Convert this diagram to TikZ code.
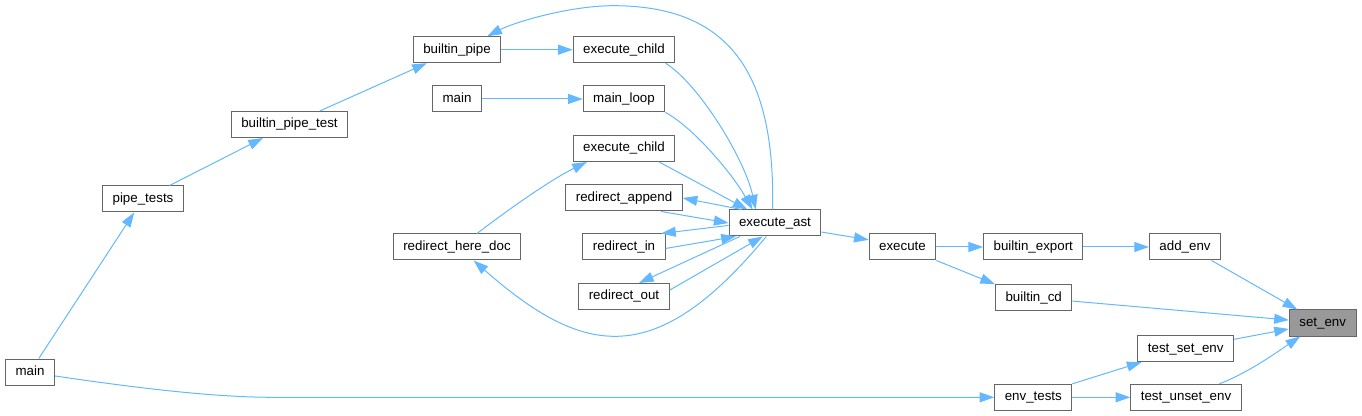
\documentclass[tikz,border=0pt]{standalone}
\usepackage{fontspec}
\setmainfont{Liberation Sans}
\usetikzlibrary{arrows.meta}
\definecolor{lien}{HTML}{63B8FF}
\definecolor{bord}{HTML}{666666}
\definecolor{racine}{HTML}{999999}

\begin{document}
\begin{tikzpicture}[x=0.75pt, y=-0.75pt,
        boite/.style={draw=bord, fill=white, line width=0.75pt, minimum height=19.5pt,
            inner xsep=7.5pt, inner ysep=0pt, text height=7.6pt, text depth=2.4pt,
            font=\fontsize{10}{12}\selectfont},
        fleche/.style={draw=lien, line width=0.75pt, -{Triangle[length=11pt,width=7.5pt]}}]
        \useasboundingbox (0,0) rectangle (1362,416);

        % Appelants de gauche
        \node[boite] (mainA) at (30,372) {main};
        \node[boite] (pipetests) at (143,199) {pipe\_tests};
        \node[boite] (pipetest) at (289.5,124.5) {builtin\_pipe\_test};
        \node[boite] (builtinpipe) at (457,49.7) {builtin\_pipe};
        \node[boite] (mainB) at (457,99) {main};
        \node[boite] (heredoc) at (457,247) {redirect\_here\_doc};

        % Colonne du milieu
        \node[boite] (childA) at (624,49.7) {execute\_child};
        \node[boite] (mainloop) at (624,99) {main\_loop};
        \node[boite] (childB) at (624,148.5) {execute\_child};
        \node[boite] (append) at (624,198) {redirect\_append};
        \node[boite] (redirin) at (624,247) {redirect\_in};
        \node[boite] (redirout) at (624,296.5) {redirect\_out};
        \node[boite] (ast) at (775,223) {execute\_ast};

        % Partie droite
        \node[boite] (execute) at (902.5,247) {execute};
        \node[boite] (export) at (1033.3,247) {builtin\_export};
        \node[boite] (builtincd) at (1033.7,297.7) {builtin\_cd};
        \node[boite] (envtests) at (1033.3,397.3) {env\_tests};
        \node[boite] (addenv) at (1185,247) {add\_env};
        \node[boite] (testset) at (1185.7,348.7) {test\_set\_env};
        \node[boite] (testunset) at (1186,397.3) {test\_unset\_env};
        \node[boite, fill=racine] (setenv) at (1322.7,323) {set\_env};

        % Chaine des tests
        \draw[fleche] (mainA) -- (pipetests);
        \draw[fleche] (pipetests) -- (pipetest);
        \draw[fleche] (pipetest) -- (builtinpipe);
        \draw[fleche] (builtinpipe.east) -- (childA.west);
        \draw[fleche] (mainB.east) -- (mainloop.west);
        \draw[fleche] (mainA.-9) .. controls (150,390) and (220,397.3) .. (273,397.3) -- (envtests.west);

        % Vers execute_ast
        \draw[fleche] (childA.-18) .. controls (700,85) and (745,160) .. (ast.145);
        \draw[fleche] (mainloop.-18) .. controls (690,125) and (730,170) .. (ast.149);
        \draw[fleche] (childB.-21) -- (ast.154);
        \draw[fleche] (heredoc.34) .. controls (505,212) and (550,180) .. (childB.200);
        \draw[fleche] (ast.158) -- (append.east);
        \draw[fleche] (append.-20) -- (ast.west);
        \draw[fleche] (ast.183) -- (redirin.20);
        \draw[fleche] (redirin.-2) -- (ast.199);
        \draw[fleche] (ast.201) -- (redirout.42);
        \draw[fleche] (redirout.8) -- (ast.228);

        % Les deux grandes boucles
        \draw[fleche] (ast.237) .. controls (655.8,369.8) and (584.2,357.7) .. (heredoc.-39);
        \draw[fleche] (ast.100) .. controls (775,80) and (735,5.7) .. (613.3,5.7)
            .. controls (570,5.7) and (515,22) .. (builtinpipe.24);

        % Vers set_env
        \draw[fleche] (ast.-11) -- (execute.168);
        \draw[fleche] (execute.east) -- (export.west);
        \draw[fleche] (execute.south east) -- (builtincd.north west);
        \draw[fleche] (export.east) -- (addenv.west);
        \draw[fleche] (addenv.-27) -- (setenv.152);
        \draw[fleche] (builtincd.-5) -- (setenv.175);
        \draw[fleche] (testset.11) -- (setenv.190);
        \draw[fleche] (testunset.22) .. controls (1250,372) and (1280,350) .. (setenv.211);
        \draw[fleche] (envtests.north east) -- (testset.197);
        \draw[fleche] (envtests.east) -- (testunset.west);
    \end{tikzpicture}
\end{document}
